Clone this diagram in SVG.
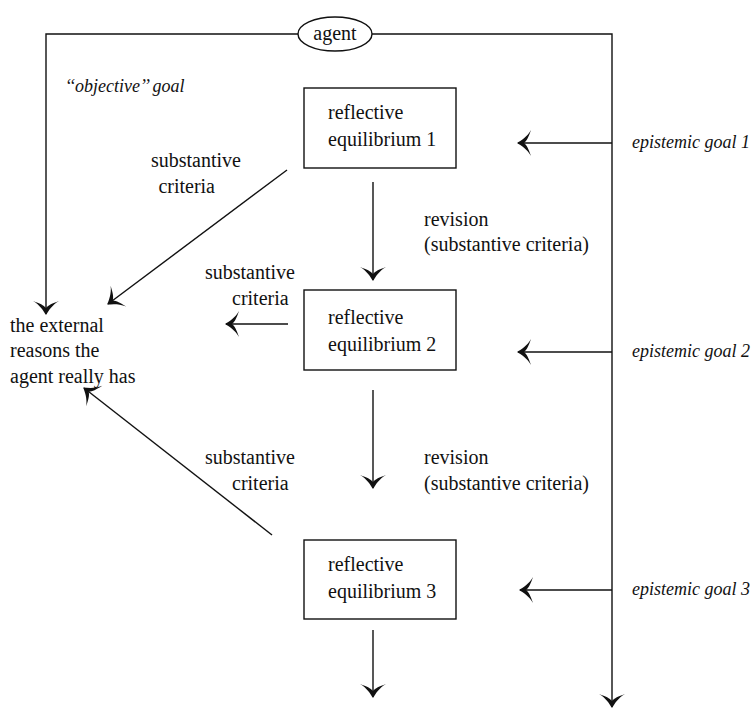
<svg xmlns="http://www.w3.org/2000/svg" width="751" height="708" viewBox="0 0 751 708">
<style>
text{font-family:"Liberation Serif","Times New Roman",serif;font-size:20px;fill:#111}
.it{font-style:italic;font-size:18px}
.ln{stroke:#111;stroke-width:1.4;fill:none}
.bx{stroke:#111;stroke-width:1.4;fill:#fff}
</style>
<defs>
<marker id="ah" markerUnits="userSpaceOnUse" markerWidth="40" markerHeight="40" viewBox="-20 -20 40 40" refX="0" refY="0" orient="auto">
<path d="M1,0 C-3,-2.5 -9,-6 -13,-13 C-10.5,-6 -9,-2.5 -6,0 C-9,2.5 -10.5,6 -13,13 C-9,6 -3,2.5 1,0 Z" fill="#111"/>
</marker>
</defs>
<rect width="751" height="708" fill="#fff"/>
<g id="connectors">
<path class="ln" d="M298,34 H46 V314" marker-end="url(#ah)"/>
<path class="ln" d="M372,34 H612 V707" marker-end="url(#ah)"/>
<line class="ln" x1="612" y1="143" x2="518" y2="143" marker-end="url(#ah)"/>
<line class="ln" x1="612" y1="352" x2="518" y2="352" marker-end="url(#ah)"/>
<line class="ln" x1="612" y1="590" x2="520" y2="590" marker-end="url(#ah)"/>
<line class="ln" x1="373" y1="182" x2="373" y2="280" marker-end="url(#ah)"/>
<line class="ln" x1="373" y1="390" x2="373" y2="488" marker-end="url(#ah)"/>
<line class="ln" x1="373" y1="630" x2="373" y2="697" marker-end="url(#ah)"/>
<line class="ln" x1="287" y1="170" x2="108" y2="304" marker-end="url(#ah)"/>
<line class="ln" x1="288" y1="324" x2="226" y2="324" marker-end="url(#ah)"/>
<line class="ln" x1="272" y1="535" x2="84" y2="388" marker-end="url(#ah)"/>
</g>
<g id="agent">
<ellipse class="bx" cx="335" cy="34" rx="37" ry="17"/>
<text x="335" y="40" text-anchor="middle">agent</text>
</g>
<g id="re1">
<rect class="bx" x="304" y="88" width="152" height="80"/>
<text x="328" y="119">reflective</text>
<text x="328" y="146">equilibrium 1</text>
</g>
<g id="re2">
<rect class="bx" x="304" y="290" width="152" height="80"/>
<text x="328" y="324">reflective</text>
<text x="328" y="351">equilibrium 2</text>
</g>
<g id="re3">
<rect class="bx" x="304" y="540" width="152" height="79"/>
<text x="328" y="571">reflective</text>
<text x="328" y="598">equilibrium 3</text>
</g>
<g id="external">
<text x="10" y="332">the external</text>
<text x="10" y="357">reasons the</text>
<text x="10" y="383">agent really has</text>
</g>
<g id="labels">
<text class="it" x="65" y="92">‘‘objective’’ goal</text>
<text class="it" x="632" y="148">epistemic goal 1</text>
<text class="it" x="632" y="357">epistemic goal 2</text>
<text class="it" x="632" y="595">epistemic goal 3</text>
<text x="241" y="167" text-anchor="end">substantive</text>
<text x="215" y="193" text-anchor="end">criteria</text>
<text x="205" y="279">substantive</text>
<text x="232" y="305">criteria</text>
<text x="205" y="464">substantive</text>
<text x="232" y="490">criteria</text>
<text x="424" y="226">revision</text>
<text x="424" y="251">(substantive criteria)</text>
<text x="424" y="464">revision</text>
<text x="424" y="490">(substantive criteria)</text>
</g>
</svg>
